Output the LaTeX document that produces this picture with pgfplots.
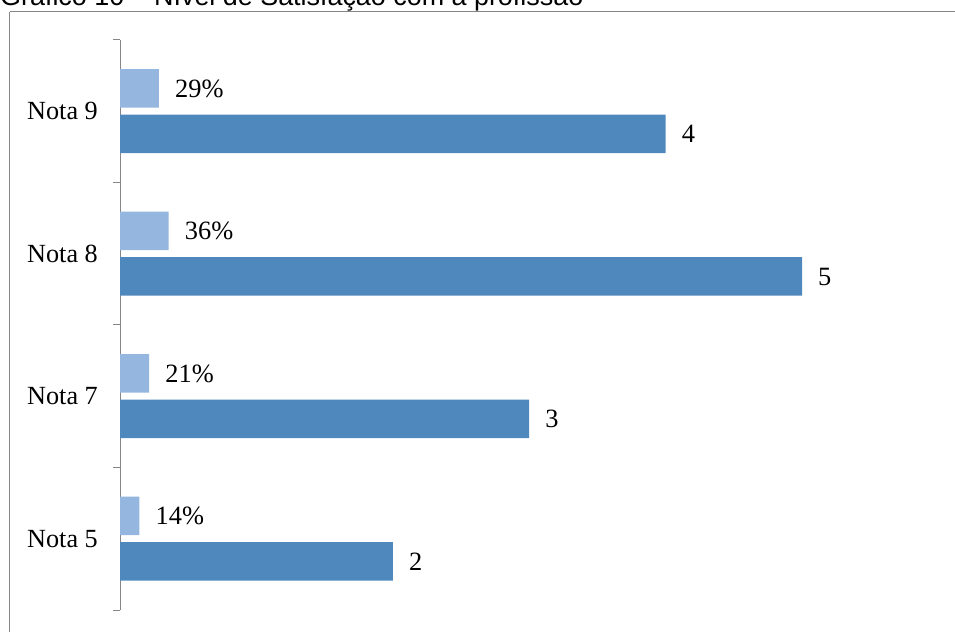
\documentclass[border=0pt]{standalone}
\usepackage{pgfplots}
\pgfplotsset{compat=1.18}
\usepackage{fontspec}
\setmainfont{Liberation Serif}
\newfontfamily\arialfont{Liberation Sans}
\definecolor{darkbar}{RGB}{79,136,189}
\definecolor{lightbar}{RGB}{149,182,222}
\definecolor{framegray}{RGB}{134,134,134}
\begin{document}
\begin{tikzpicture}
\useasboundingbox (0,0) rectangle (955bp,632bp);
\node[anchor=base west, inner sep=0pt, font=\arialfont\fontsize{27}{31}\selectfont] at (0bp,626bp) {Gráfico 10 – Nível de Satisfação com a profissão};
\draw[framegray, line width=1bp] (9.5bp,620bp) -- (970bp,620bp);
\draw[framegray, line width=1bp] (9.5bp,620bp) -- (9.5bp,-10bp);
\begin{axis}[
  at={(120bp,22bp)}, anchor=south west,
  scale only axis, width=818.4bp, height=570bp,
  xmin=0, xmax=6, ymin=-0.5, ymax=3.5,
  hide x axis,
  axis y line*=left,
  y axis line style={-, draw=framegray, line width=1bp},
  ytick={0,1,2,3},
  yticklabels={Nota 5,Nota 7,Nota 8,Nota 9},
  major tick length=0pt,
  minor ytick={-0.5,0.5,1.5,2.5,3.5},
  minor tick length=7bp,
  tick align=outside,
  minor tick style={draw=framegray, line width=1bp},
  yticklabel style={font=\fontsize{26.3}{30}\selectfont, inner sep=0pt, xshift=-22bp},
  xbar, bar width=38.5bp,
  clip=false,
  point meta=explicit symbolic,
  nodes near coords,
  every node near coord/.append style={font=\fontsize{26.5}{30}\selectfont, anchor=west, inner sep=0pt, xshift=16bp, text=black},
]
\addplot[fill=lightbar, draw=none, bar shift=22.75bp] coordinates {
  (0.1429,0) [14\%]
  (0.2143,1) [21\%]
  (0.3571,2) [36\%]
  (0.2857,3) [29\%]
};
\addplot[fill=darkbar, draw=none, bar shift=-22.75bp] coordinates {
  (2,0) [2]
  (3,1) [3]
  (5,2) [5]
  (4,3) [4]
};
\end{axis}
\end{tikzpicture}
\end{document}
